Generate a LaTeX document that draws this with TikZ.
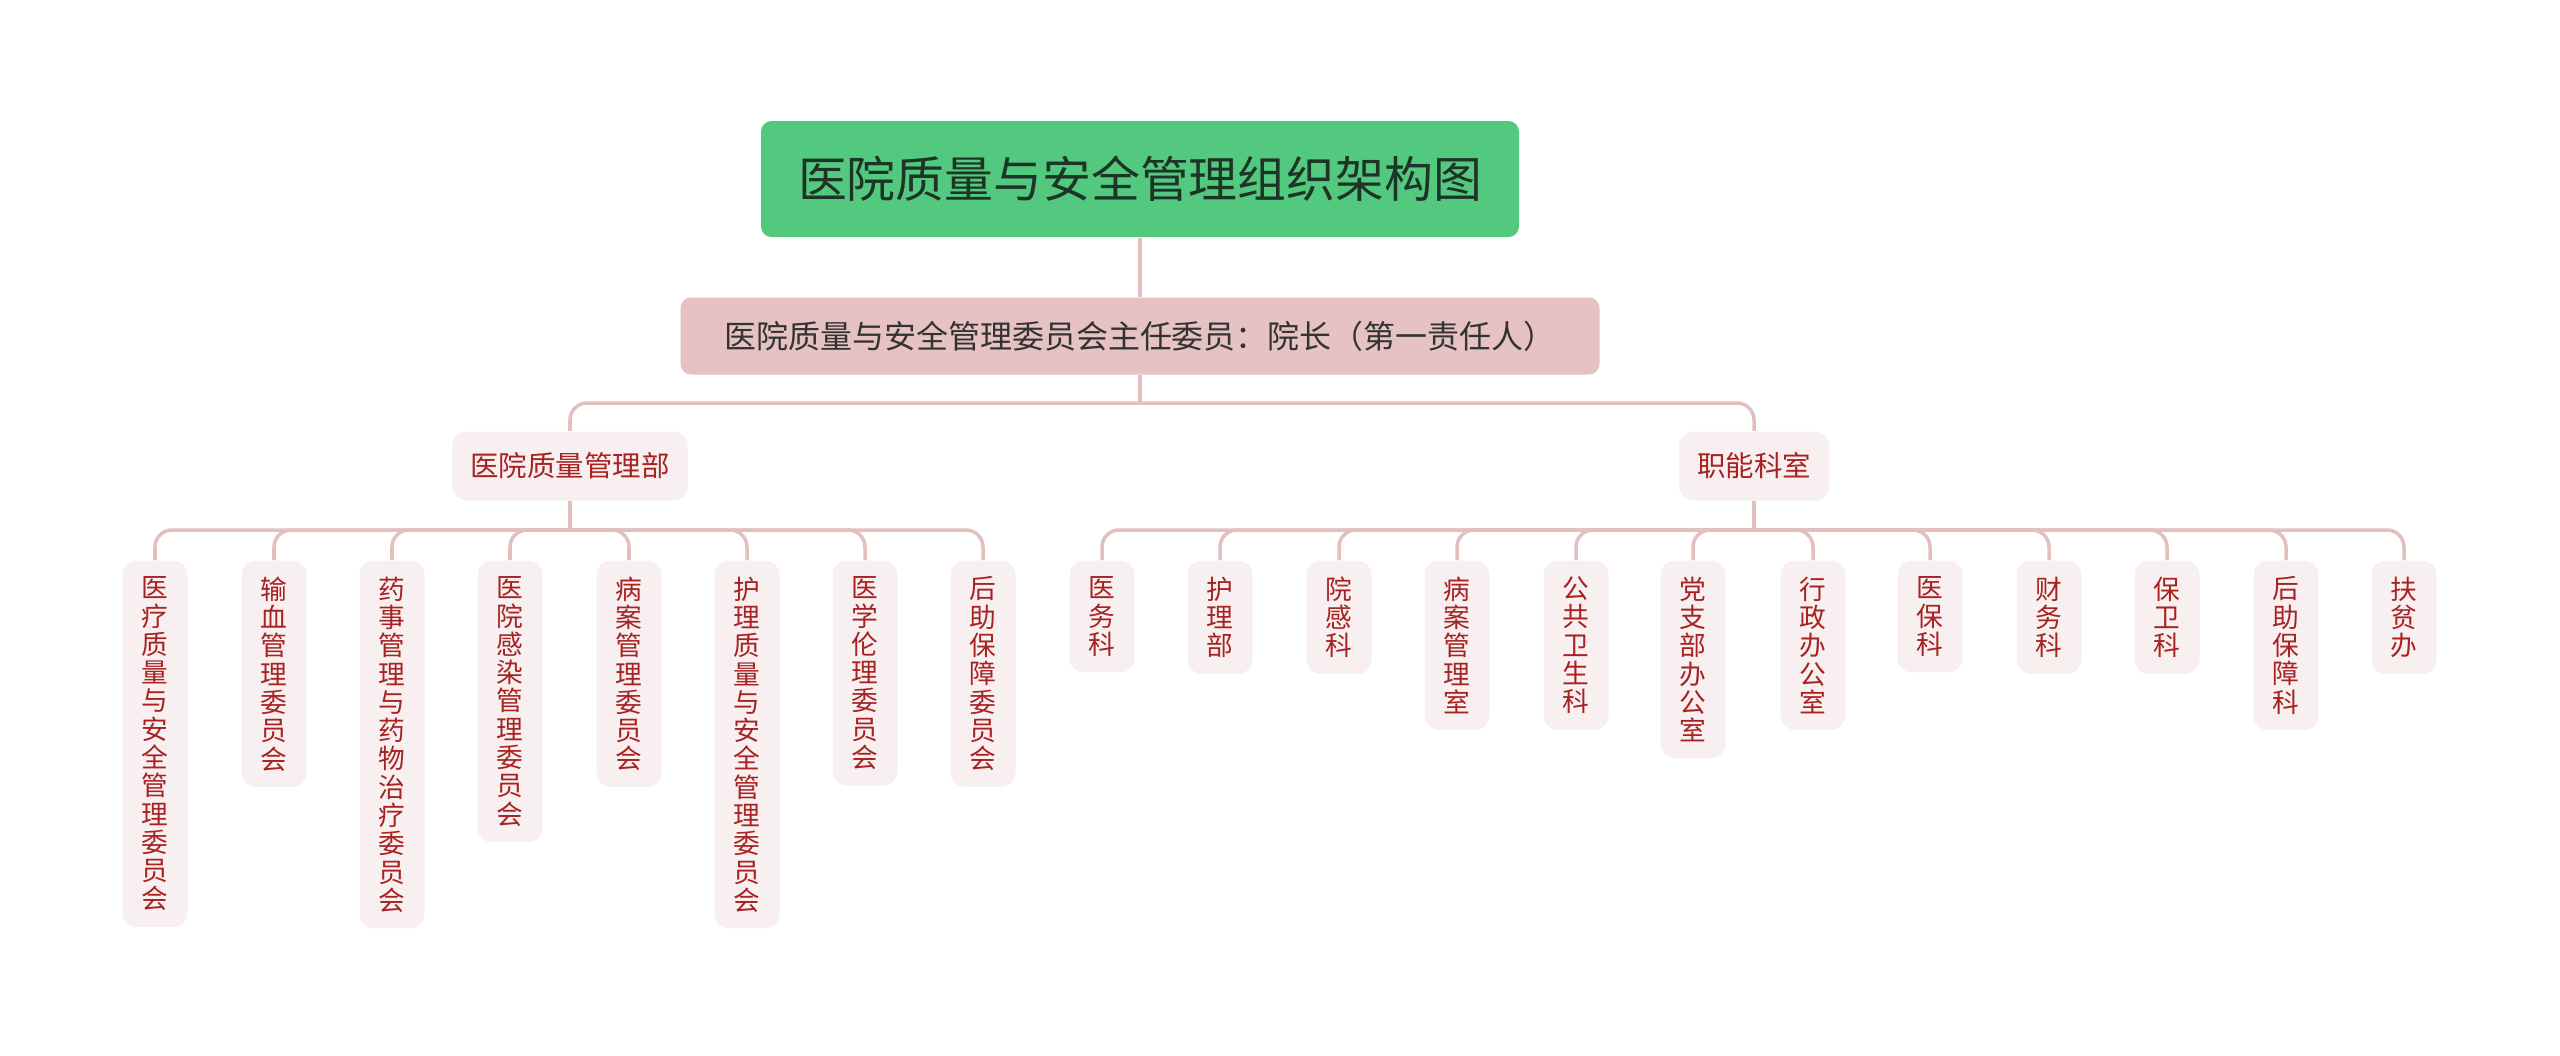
\documentclass[tikz,border=0pt]{standalone}
\usepackage{fontspec}
\usepackage{xcolor}
\usepackage{tikz}
\usetikzlibrary{positioning, calc}
\newfontfamily\cjk{Noto Sans CJK SC}
\XeTeXlinebreaklocale "zh"
\XeTeXlinebreakskip=0pt plus 1pt

\definecolor{titlegreen}{HTML}{52C97F}
\definecolor{titletext}{HTML}{1C3526}
\definecolor{subpink}{HTML}{E6C2C2}
\definecolor{linkpink}{HTML}{E2C0C0}
\definecolor{leaffill}{HTML}{F8F0F0}
\definecolor{leaftext}{HTML}{A82222}

\tikzset{
  titlebox/.style={fill=titlegreen, rounded corners=3pt, minimum width=7.58cm, minimum height=1.16cm,
    text=titletext, font=\cjk\fontsize{13.9}{16}\selectfont},
  subbox/.style={fill=subpink, rounded corners=3pt, minimum width=9.19cm, minimum height=0.77cm,
    text=black!80, font=\cjk\fontsize{9.1}{10.5}\selectfont},
  deptbox/.style={fill=leaffill, rounded corners=4pt, minimum height=0.69cm, inner xsep=0.18cm,
    text=leaftext, font=\cjk\fontsize{8.1}{9.6}\selectfont},
  leaf/.style={fill=leaffill, rounded corners=4pt, text width=1.1em, align=center, minimum width=0.65cm,
    inner xsep=0.1cm, inner ysep=0.16cm, anchor=north, text=leaftext, font=\cjk\fontsize{7.6}{8.05}\selectfont},
  link/.style={draw=linkpink, line width=1pt},
  branch/.style={link, rounded corners=0.17cm}
}

\begin{document}
\begin{tikzpicture}
\useasboundingbox (0,0) rectangle (25.6,-10.55);

        % ===================================================
        % 1. TITLE AND COMMITTEE HEAD
        % ===================================================
        \node[titlebox] (title) at (11.40,-1.79) {医院质量与安全管理组织架构图};
        \node[subbox] (head) at (11.40,-3.36) {医院质量与安全管理委员会主任委员：院长（第一责任人）};

        \draw[link] (title.south) -- (head.north);

        % bus levels
        \coordinate (bus1) at (0,-4.03);
        \coordinate (bus2) at (0,-5.30);

        % ===================================================
        % 2. DEPARTMENTS
        % ===================================================
        \node[deptbox] (qm) at (5.70,-4.66) {医院质量管理部};
        \node[deptbox] (fn) at (17.54,-4.66) {职能科室};

        \draw[link] (head.south) -- (head.south |- bus1);
        \draw[branch] (qm.north) -- (qm.north |- bus1) -- (fn.north |- bus1) -- (fn.north);

        % ===================================================
        % 3. COMMITTEES UNDER QUALITY DEPARTMENT
        % ===================================================
        \node[leaf] (q1) at (1.55,-5.60) {医疗质量与安全管理委员会};
        \node[leaf] (q2) at (2.74,-5.60) {输血管理委员会};
        \node[leaf] (q3) at (3.92,-5.60) {药事管理与药物治疗委员会};
        \node[leaf] (q4) at (5.10,-5.60) {医院感染管理委员会};
        \node[leaf] (q5) at (6.29,-5.60) {病案管理委员会};
        \node[leaf] (q6) at (7.47,-5.60) {护理质量与安全管理委员会};
        \node[leaf] (q7) at (8.65,-5.60) {医学伦理委员会};
        \node[leaf] (q8) at (9.83,-5.60) {后助保障委员会};

        \draw[link] (qm.south) -- (qm.south |- bus2);
        \draw[branch] (qm.south |- bus2) -| (q1.north);
        \draw[branch] (qm.south |- bus2) -| (q2.north);
        \draw[branch] (qm.south |- bus2) -| (q3.north);
        \draw[branch] (qm.south |- bus2) -| (q4.north);
        \draw[branch] (qm.south |- bus2) -| (q5.north);
        \draw[branch] (qm.south |- bus2) -| (q6.north);
        \draw[branch] (qm.south |- bus2) -| (q7.north);
        \draw[branch] (qm.south |- bus2) -| (q8.north);

        % ===================================================
        % 4. FUNCTIONAL OFFICES
        % ===================================================
        \node[leaf] (f1) at (11.02,-5.60) {医务科};
        \node[leaf] (f2) at (12.20,-5.60) {护理部};
        \node[leaf] (f3) at (13.39,-5.60) {院感科};
        \node[leaf] (f4) at (14.57,-5.60) {病案管理室};
        \node[leaf] (f5) at (15.76,-5.60) {公共卫生科};
        \node[leaf] (f6) at (16.93,-5.60) {党支部办公室};
        \node[leaf] (f7) at (18.13,-5.60) {行政办公室};
        \node[leaf] (f8) at (19.30,-5.60) {医保科};
        \node[leaf] (f9) at (20.49,-5.60) {财务科};
        \node[leaf] (f10) at (21.67,-5.60) {保卫科};
        \node[leaf] (f11) at (22.86,-5.60) {后助保障科};
        \node[leaf] (f12) at (24.04,-5.60) {扶贫办};

        \draw[link] (fn.south) -- (fn.south |- bus2);
        \draw[branch] (fn.south |- bus2) -| (f1.north);
        \draw[branch] (fn.south |- bus2) -| (f2.north);
        \draw[branch] (fn.south |- bus2) -| (f3.north);
        \draw[branch] (fn.south |- bus2) -| (f4.north);
        \draw[branch] (fn.south |- bus2) -| (f5.north);
        \draw[branch] (fn.south |- bus2) -| (f6.north);
        \draw[branch] (fn.south |- bus2) -| (f7.north);
        \draw[branch] (fn.south |- bus2) -| (f8.north);
        \draw[branch] (fn.south |- bus2) -| (f9.north);
        \draw[branch] (fn.south |- bus2) -| (f10.north);
        \draw[branch] (fn.south |- bus2) -| (f11.north);
        \draw[branch] (fn.south |- bus2) -| (f12.north);

\end{tikzpicture}
\end{document}
